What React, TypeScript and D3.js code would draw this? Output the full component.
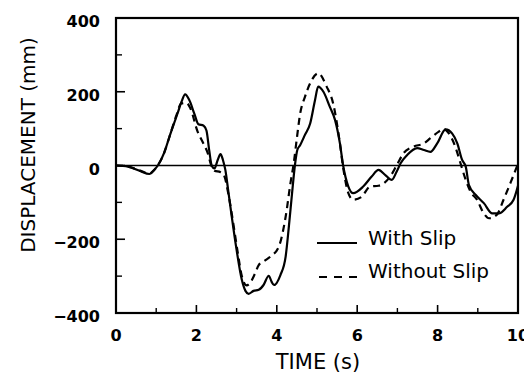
import React from "react";
import * as d3 from "d3";

const withSlipT = [0, 0.3, 0.6, 0.83, 0.95, 1.04, 1.2, 1.33, 1.53, 1.63, 1.72, 1.82, 1.95, 2.05, 2.18, 2.25, 2.32, 2.38, 2.45, 2.53, 2.6, 2.66, 2.72, 2.8, 2.88, 3.0, 3.13, 3.22, 3.3, 3.42, 3.55, 3.67, 3.8, 3.87, 3.93, 4.09, 4.22, 4.3, 4.38, 4.45, 4.51, 4.58, 4.7, 4.83, 4.95, 5.03, 5.16, 5.32, 5.45, 5.57, 5.65, 5.78, 5.9, 6.15, 6.36, 6.53, 6.7, 6.86, 6.98, 7.08, 7.24, 7.49, 7.66, 7.82, 7.99, 8.2, 8.36, 8.49, 8.61, 8.7, 8.78, 8.95, 9.15, 9.36, 9.52, 9.73, 9.89, 10];
const withSlipV = [0, -3, -15, -23, -12, 0, 35, 78, 141, 173, 193, 178, 140, 112, 108, 95, 40, 0, -8, 15, 31, 15, -12, -75, -139, -229, -310, -340, -348, -340, -337, -324, -299, -315, -324, -297, -247, -166, -75, 0, 42, 55, 83, 114, 177, 214, 200, 159, 123, 60, 0, -57, -75, -57, -30, -12, -26, -39, -17, 6, 28, 47, 42, 37, 60, 98, 87, 60, 15, -3, -53, -80, -102, -130, -130, -112, -93, -55];

const withoutSlipT = [0, 0.3, 0.6, 0.83, 0.95, 1.04, 1.2, 1.33, 1.5, 1.62, 1.75, 1.85, 2.03, 2.15, 2.28, 2.37, 2.45, 2.6, 2.68, 2.8, 2.9, 3.02, 3.13, 3.25, 3.33, 3.45, 3.55, 3.7, 3.84, 4.05, 4.22, 4.34, 4.42, 4.5, 4.58, 4.7, 4.83, 5.03, 5.24, 5.4, 5.57, 5.65, 5.78, 5.9, 6.11, 6.32, 6.53, 6.82, 6.98, 7.15, 7.4, 7.66, 7.82, 8.03, 8.15, 8.28, 8.44, 8.57, 8.7, 8.82, 8.98, 9.15, 9.28, 9.47, 9.64, 9.81, 9.94, 10];
const withoutSlipV = [0, -3, -14, -22, -12, 0, 35, 78, 135, 168, 170, 155, 92, 65, 34, 0, -14, -18, -25, -80, -145, -230, -300, -325, -319, -295, -270, -258, -247, -220, -139, -48, 5, 75, 140, 186, 223, 250, 214, 169, 60, -5, -75, -93, -85, -57, -55, -30, 0, 33, 51, 60, 74, 92, 99, 87, 51, 6, -39, -71, -93, -130, -143, -134, -93, -48, -12, 5];

const xTicks = [0, 2, 4, 6, 8, 10];
const xMinorTicks = [1, 3, 5, 7, 9];
const yTicks = [-400, -200, 0, 200, 400];
const yMinorTicks = [-300, -100, 100, 300];
const seriesNames = ["With Slip", "Without Slip"];

const W = 524, H = 376;
const L = 116, R = 518, T = 18, B = 313;

export default function App() {
  const x = d3.scaleLinear().domain([0, 10]).range([L, R]);
  const y = d3.scaleLinear().domain([-400, 400]).range([B, T]);
  const line = d3
    .line<[number, number]>()
    .x((d) => x(d[0]))
    .y((d) => y(d[1]))
    .curve(d3.curveMonotoneX);
  const s1 = withSlipT.map((t, i) => [t, withSlipV[i]] as [number, number]);
  const s2 = withoutSlipT.map((t, i) => [t, withoutSlipV[i]] as [number, number]);
  const tickFont = "'DejaVu Sans', sans-serif";

  return (
    <svg width={W} height={H} style={{ position: "absolute", left: 0, top: 0, background: "#fff" }}>
      <rect width={W} height={H} fill="#fff" />
      {/* zero line */}
      <line x1={L} x2={R} y1={y(0)} y2={y(0)} stroke="#000" strokeWidth={1.6} />
      {/* curves */}
      <path d={line(s2) || ""} fill="none" stroke="#000" strokeWidth={2.2} strokeDasharray="7,5" />
      <path d={line(s1) || ""} fill="none" stroke="#000" strokeWidth={2.2} />
      {/* frame */}
      <rect x={L} y={T} width={R - L} height={B - T} fill="none" stroke="#000" strokeWidth={2.2} />
      {/* y ticks */}
      {yTicks.map((v) => (
        <g key={"y" + v}>
          <line x1={L} x2={L + 9} y1={y(v)} y2={y(v)} stroke="#000" strokeWidth={1.6} />
          <text x={100} y={y(v) + 9} textAnchor="end" fontFamily={tickFont} fontWeight="bold" fontSize={16}>
            {v < 0 ? "\u2212" + Math.abs(v) : String(v)}
          </text>
        </g>
      ))}
      {yMinorTicks.map((v) => (
        <line key={"ym" + v} x1={L} x2={L + 6} y1={y(v)} y2={y(v)} stroke="#000" strokeWidth={1.4} />
      ))}
      {/* x ticks */}
      {xTicks.map((t) => (
        <g key={"x" + t}>
          <line x1={x(t)} x2={x(t)} y1={B} y2={B - 8} stroke="#000" strokeWidth={1.6} />
          <text x={x(t)} y={341} textAnchor="middle" fontFamily={tickFont} fontWeight="bold" fontSize={16}>
            {t}
          </text>
        </g>
      ))}
      {xMinorTicks.map((t) => (
        <line key={"xm" + t} x1={x(t)} x2={x(t)} y1={B} y2={B - 5} stroke="#000" strokeWidth={1.4} />
      ))}
      {/* axis titles */}
      <text x={318} y={369} textAnchor="middle" fontFamily={tickFont} fontSize={21}>
        TIME (s)
      </text>
      <text
        transform={`translate(35,${145}) rotate(-90)`}
        textAnchor="middle"
        fontFamily={tickFont}
        fontSize={20}
      >
        DISPLACEMENT (mm)
      </text>
      {/* legend */}
      <line x1={317} x2={357} y1={243} y2={243} stroke="#000" strokeWidth={2.2} />
      <text x={368} y={245} fontFamily={tickFont} fontSize={20}>
        {seriesNames[0]}
      </text>
      <line x1={319} x2={358} y1={277} y2={277} stroke="#000" strokeWidth={2.2} strokeDasharray="8,7" />
      <text x={368} y={278} fontFamily={tickFont} fontSize={20}>
        {seriesNames[1]}
      </text>
    </svg>
  );
}
